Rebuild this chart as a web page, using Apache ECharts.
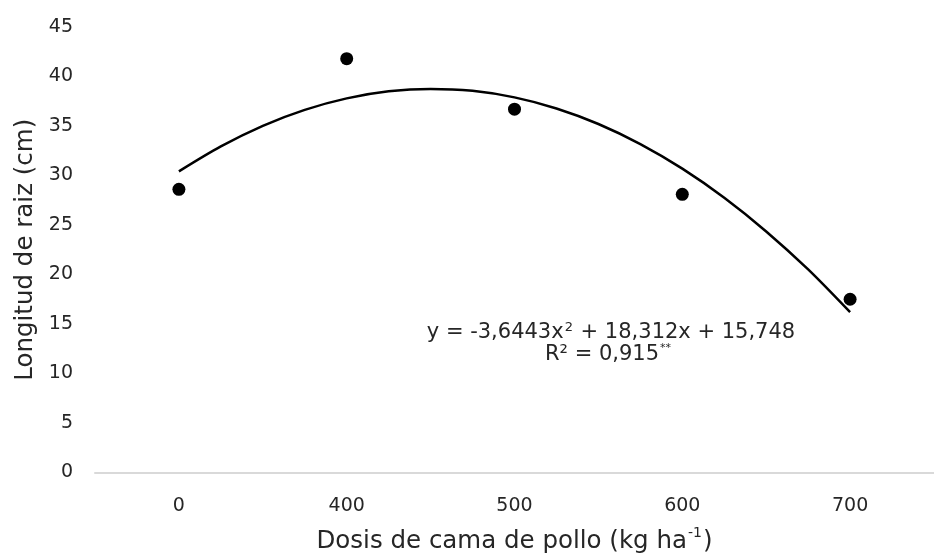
<!DOCTYPE html>
<html><head><meta charset="utf-8">
<script src="https://cdn.jsdelivr.net/npm/echarts@6/dist/echarts.min.js"></script>
<style>html,body{margin:0;padding:0;background:#fff}#c{width:934px;height:559px}</style>
</head><body><div id="c"></div>
<script>
// Data
const categories = ['0', '400', '500', '600', '700'];
const rootLength = [28.6, 41.8, 36.7, 28.1, 17.5];
// fitted curve read along the category index (1 = first category)
const trendX = [1, 1.25, 1.5, 1.75, 2, 2.25, 2.5, 2.75, 3, 3.25, 3.5, 3.75, 4, 4.25, 4.5, 4.75, 5];
const trendY = [30.42, 32.94, 35.02, 36.63, 37.79, 38.50, 38.75, 38.55, 37.89, 36.77, 35.20, 33.17, 30.69, 27.75, 24.35, 20.51, 16.19];
const yMin = 0, yMax = 45, yStep = 5;
const equationText = '{t|y = -3,6443x}{s|2}{t| + 18,312x + 15,748}';
const r2Text = '{t|R² = 0,915}{s|**}';

const FONT = '"DejaVu Sans", sans-serif';
const TXT = '#262626';

const chart = echarts.init(document.getElementById('c'), null, {renderer: 'canvas'});
chart.setOption({
  animation: false,
  backgroundColor: '#fff',
  textStyle: {fontFamily: FONT},
  grid: {left: 95, width: 840, top: 27, height: 449, containLabel: false},
  xAxis: [{
    type: 'category',
    data: categories,
    boundaryGap: true,
    axisTick: {show: false},
    axisLine: {lineStyle: {color: '#d9d9d9', width: 2}},
    axisLabel: {color: TXT, fontSize: 19, fontFamily: FONT, margin: 24},
    name: '{t|Dosis de cama de pollo (kg ha}{s|-1}{t|)}',
    nameLocation: 'middle',
    nameGap: 54,
    nameTextStyle: {
      rich: {
        t: {fontSize: 24.5, color: TXT, fontFamily: FONT, lineHeight: 30},
        s: {fontSize: 14, color: TXT, fontFamily: FONT, verticalAlign: 'top', lineHeight: 30, padding: [0, 1, 10, 1]}
      }
    }
  }, {
    type: 'value',
    min: 0.5, max: 5.5,
    show: false
  }],
  yAxis: {
    type: 'value',
    min: yMin, max: yMax, interval: yStep,
    splitLine: {show: false},
    axisLine: {show: false},
    axisTick: {show: false},
    axisLabel: {color: TXT, fontSize: 19, fontFamily: FONT, margin: 22},
    name: 'Longitud de raiz (cm)',
    nameLocation: 'middle',
    nameGap: 57,
    nameTextStyle: {color: TXT, fontSize: 24.5, fontFamily: FONT}
  },
  series: [{
    type: 'line',
    xAxisIndex: 1,
    data: trendX.map((x, i) => [x, trendY[i]]),
    smooth: 0.3,
    showSymbol: false,
    lineStyle: {color: '#000', width: 2.5},
    z: 2
  }, {
    type: 'scatter',
    xAxisIndex: 0,
    data: rootLength,
    symbol: 'circle',
    symbolSize: 13,
    itemStyle: {color: '#000', opacity: 1},
    z: 3
  }],
  graphic: [{
    type: 'text',
    x: 611, y: 333,
    style: {
      text: equationText,
      align: 'center', verticalAlign: 'middle',
      rich: {
        t: {fontSize: 21, fill: TXT, fontFamily: FONT, lineHeight: 24},
        s: {fontSize: 13, fill: TXT, fontFamily: FONT, verticalAlign: 'top', lineHeight: 24, padding: [0, 1, 8, 1]}
      }
    }
  }, {
    type: 'text',
    x: 608, y: 355,
    style: {
      text: r2Text,
      align: 'center', verticalAlign: 'middle',
      rich: {
        t: {fontSize: 21, fill: TXT, fontFamily: FONT, lineHeight: 24},
        s: {fontSize: 11, fill: TXT, fontFamily: FONT, verticalAlign: 'top', lineHeight: 24, padding: [0, 0, 10, 1]}
      }
    }
  }]
});
</script>
</body></html>
